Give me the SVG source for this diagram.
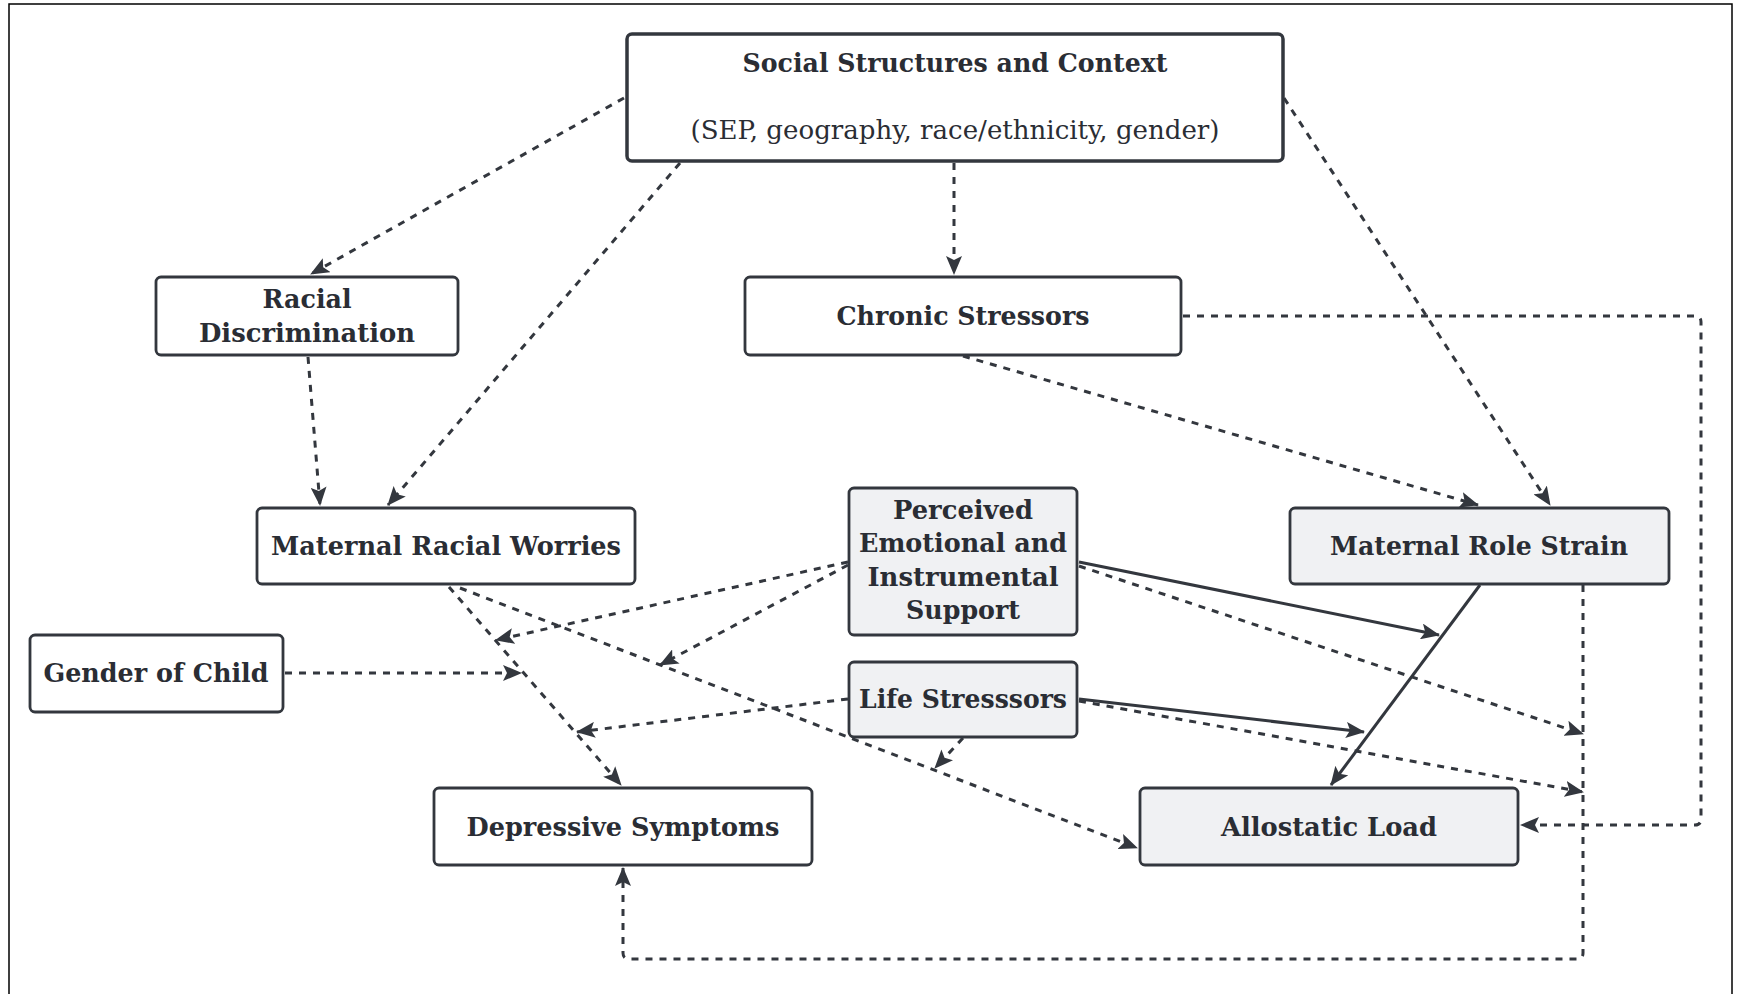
<svg xmlns="http://www.w3.org/2000/svg" width="1739" height="994" viewBox="0 0 1739 994">
<style>
.frame{fill:#fff;stroke:#000;stroke-width:1.5}
.box{fill:#fff;stroke:#33373e;stroke-width:2.8}
.grey{fill:#f0f1f3}
.t{font-family:"DejaVu Serif","Liberation Serif",serif;font-weight:bold;font-size:26px;fill:#2a2d34;text-anchor:middle}
.r{font-weight:normal}
.d{fill:none;stroke:#33373e;stroke-width:3;stroke-dasharray:7 7;marker-end:url(#ah)}
.s{fill:none;stroke:#33373e;stroke-width:3;marker-end:url(#ah)}
</style>
<defs>
<marker id="ah" markerUnits="userSpaceOnUse" markerWidth="19" markerHeight="16" refX="18" refY="8" orient="auto">
<path d="M0,0 L19,8 L0,16 L4,8 z" fill="#33373e"/>
</marker>
</defs>
<rect width="1739" height="994" fill="#fff"/>
<rect class="frame" x="9" y="4" width="1723" height="1000"/>

<g id="connectors">
<path class="d" d="M624,98 L311,274"/>
<path class="d" d="M680,163 L388,505"/>
<path class="d" d="M954,163 L954,274"/>
<path class="d" d="M1284,98 L1550,505"/>
<path class="d" d="M308,357 L320,505"/>
<path class="d" d="M963,356 L1478,505"/>
<path class="d" d="M1183,316 L1695,316 Q1701,316 1701,322 L1701,819 Q1701,825 1695,825 L1521,825"/>
<path class="d" d="M449,587 L621,785"/>
<path class="d" d="M460,588 L1137,848"/>
<path class="d" d="M848,562 L496,640"/>
<path class="d" d="M848,565 L660,665"/>
<path class="d" d="M285,673 L521,673"/>
<path class="d" d="M848,699 L577,732"/>
<path class="d" d="M963,738 L935,768"/>
<path class="s" d="M1079,562 L1439,635"/>
<path class="s" d="M1480,585 L1331,785"/>
<path class="s" d="M1079,699 L1364,732"/>
<path class="d" d="M1079,566 L1583,734"/>
<path class="d" d="M1079,701 L1583,792"/>
<path class="d" d="M1583,585 L1583,953 Q1583,959 1577,959 L629,959 Q623,959 623,953 L623,868"/>
</g>

<g id="social">
<rect class="box" x="627" y="34" width="656" height="127" rx="5" style="stroke-width:3.5"/>
<text class="t" x="955" y="72" textLength="425" lengthAdjust="spacingAndGlyphs">Social Structures and Context</text>
<text class="t r" x="955" y="139" textLength="529" lengthAdjust="spacingAndGlyphs">(SEP, geography, race/ethnicity, gender)</text>
</g>
<g id="racial">
<rect class="box" x="156" y="277" width="302" height="78" rx="5"/>
<text class="t" x="307" y="308" textLength="89" lengthAdjust="spacingAndGlyphs">Racial</text>
<text class="t" x="307" y="342" textLength="216" lengthAdjust="spacingAndGlyphs">Discrimination</text>
</g>
<g id="chronic">
<rect class="box" x="745" y="277" width="436" height="78" rx="5"/>
<text class="t" x="963" y="325" textLength="253" lengthAdjust="spacingAndGlyphs">Chronic Stressors</text>
</g>
<g id="mrw">
<rect class="box" x="257" y="508" width="378" height="76" rx="5"/>
<text class="t" x="446" y="555" textLength="350" lengthAdjust="spacingAndGlyphs">Maternal Racial Worries</text>
</g>
<g id="support">
<rect class="box grey" x="849" y="488" width="228" height="147" rx="5"/>
<text class="t" x="963" y="519" textLength="140" lengthAdjust="spacingAndGlyphs">Perceived</text>
<text class="t" x="963" y="552" textLength="208" lengthAdjust="spacingAndGlyphs">Emotional and</text>
<text class="t" x="963" y="586" textLength="191" lengthAdjust="spacingAndGlyphs">Instrumental</text>
<text class="t" x="963" y="619" textLength="114" lengthAdjust="spacingAndGlyphs">Support</text>
</g>
<g id="mrs">
<rect class="box grey" x="1290" y="508" width="379" height="76" rx="5"/>
<text class="t" x="1479" y="555" textLength="298" lengthAdjust="spacingAndGlyphs">Maternal Role Strain</text>
</g>
<g id="gender">
<rect class="box" x="30" y="635" width="253" height="77" rx="5"/>
<text class="t" x="156" y="682" textLength="225" lengthAdjust="spacingAndGlyphs">Gender of Child</text>
</g>
<g id="life">
<rect class="box grey" x="849" y="662" width="228" height="75" rx="5"/>
<text class="t" x="963" y="708" textLength="208" lengthAdjust="spacingAndGlyphs">Life Stresssors</text>
</g>
<g id="depressive">
<rect class="box" x="434" y="788" width="378" height="77" rx="5"/>
<text class="t" x="623" y="836" textLength="313" lengthAdjust="spacingAndGlyphs">Depressive Symptoms</text>
</g>
<g id="allostatic">
<rect class="box grey" x="1140" y="788" width="378" height="77" rx="5"/>
<text class="t" x="1329" y="836" textLength="216" lengthAdjust="spacingAndGlyphs">Allostatic Load</text>
</g>
</svg>
